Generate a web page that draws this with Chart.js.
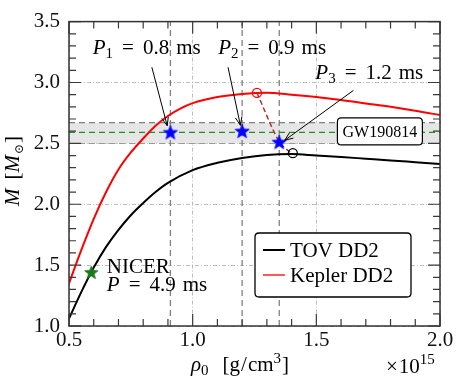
<!DOCTYPE html>
<html><head><meta charset="utf-8">
<script src="https://cdn.jsdelivr.net/npm/chart.js@4.4.1/dist/chart.umd.min.js"></script>
<style>html,body{margin:0;padding:0;background:#fff;}#wrap{width:463px;height:386px;}</style>
</head><body><div id="wrap"><canvas id="c" width="463" height="386"></canvas></div>
<script>
// ---------- data ----------
const tovRho   = [0.50,0.55,0.60,0.65,0.70,0.75,0.80,0.85,0.90,1.00,1.10,1.20,1.30,1.40,1.50,1.60,1.70,1.80,1.90,2.00];
const tovMass  = [1.06,1.28,1.48,1.65,1.79,1.91,2.01,2.10,2.175,2.28,2.34,2.38,2.405,2.412,2.40,2.388,2.374,2.36,2.345,2.33];
const keplerRho  = [0.50,0.55,0.60,0.65,0.70,0.75,0.80,0.85,0.90,0.95,1.00,1.10,1.20,1.30,1.40,1.50,1.60,1.70,1.80,1.90,2.00];
const keplerMass = [1.35,1.625,1.88,2.10,2.285,2.425,2.54,2.645,2.725,2.785,2.83,2.88,2.905,2.915,2.90,2.88,2.856,2.828,2.80,2.768,2.732];
const shedRho  = [1.26,1.35,1.395];
const shedMass = [2.915,2.51,2.425];
const keplerMaxRho = [1.26],  keplerMaxMass = [2.914];
const tovMaxRho    = [1.405], tovMaxMass    = [2.419];
const periodRho    = [0.91,1.20,1.35];
const periodMass   = [2.59,2.60,2.51];
const periodNames  = ['P1','P2','P3'];
const periodValues = ['0.8','0.9','1.2'];
const nicerRho = [0.59], nicerMass = [1.44];
const nicerPeriod = '4.9';
const gwName = 'GW190814';
const gwMass = [2.59], gwLow = [2.50], gwHigh = [2.67];
const xTicks = [0.5,1.0,1.5,2.0];
const yTicks = [1.0,1.5,2.0,2.5,3.0,3.5];
// -----------------------------------------------------

const FONT = "'Liberation Serif','DejaVu Serif',serif";
const xMin = xTicks[0], xMax = xTicks[xTicks.length-1];
const yMin = yTicks[0], yMax = yTicks[yTicks.length-1];
const xy = (xs, ys) => xs.map((x,i)=>({x:x, y:ys[i]}));

function makeStar(color, R){
  const r = R*0.42, s = Math.ceil(R*2+3);
  const c = document.createElement('canvas'); c.width=s; c.height=s;
  const g = c.getContext('2d'); g.translate(s/2, s/2+0.5);
  g.beginPath();
  for(let i=0;i<10;i++){const rad=i%2?r:R; const a=-Math.PI/2+i*Math.PI/5; g.lineTo(rad*Math.cos(a), rad*Math.sin(a));}
  g.closePath(); g.fillStyle=color; g.fill(); g.lineWidth=0.8; g.strokeStyle=color; g.stroke();
  return c;
}
const blueStar = makeStar('#0000ff', 7.5);
const greenStar = makeStar('#1a7a1a', 7);

const hLine = (v, extra) => Object.assign({data:[{x:xMin,y:v},{x:xMax,y:v}], showLine:true, pointRadius:0, borderWidth:1.3, borderDash:[6,4]}, extra);
const vLines = periodRho.map(v => ({label:'', data:[{x:v,y:yMin},{x:v,y:yMax}], showLine:true, pointRadius:0, borderColor:'#808080', borderWidth:1.3, borderDash:[6,4], order:5}));

const datasets = [
  {label:'TOV DD2', data:xy(tovRho,tovMass), showLine:true, pointRadius:0, borderColor:'#000000', borderWidth:2, cubicInterpolationMode:'monotone', order:2, legend:true},
  {label:'Kepler DD2', data:xy(keplerRho,keplerMass), showLine:true, pointRadius:0, borderColor:'#ff0000', borderWidth:2, cubicInterpolationMode:'monotone', order:2, legend:true},
  {label:'', data:xy(shedRho,shedMass), showLine:true, pointRadius:0, borderColor:'#a8352d', borderWidth:1.5, borderDash:[5,3], tension:0.3, order:3},
  {label:'', data:xy(keplerMaxRho,keplerMaxMass), pointStyle:'circle', pointRadius:4.5, pointBorderWidth:1.3, pointBorderColor:'#ff0000', pointBackgroundColor:'rgba(0,0,0,0)', order:1},
  {label:'', data:xy(tovMaxRho,tovMaxMass), pointStyle:'circle', pointRadius:4.5, pointBorderWidth:1.3, pointBorderColor:'#000000', pointBackgroundColor:'rgba(0,0,0,0)', order:1},
  {label:'', data:xy(periodRho,periodMass), pointStyle:blueStar, pointRadius:7, order:0},
  {label:'', data:xy(nicerRho,nicerMass), pointStyle:greenStar, pointRadius:7, order:0},
  ...vLines,
  hLine(gwHigh[0], {label:'', borderColor:'#808080', backgroundColor:'#e6e6e6', fill:'+1', order:6}),
  hLine(gwLow[0],  {label:'', borderColor:'#808080', fill:false, order:6}),
  hLine(gwMass[0], {label:'', borderColor:'#1f8f1f', fill:false, order:4}),
];

function drawRich(ctx, x, y, parts, measureOnly){
  let cx = x;
  for(const p of parts){
    cx += p.gap||0;
    ctx.font = (p.it?'italic ':'') + (p.size||21) + 'px ' + FONT;
    const w = ctx.measureText(p.t).width;
    if(!measureOnly) ctx.fillText(p.t, cx, y + (p.dy||0));
    cx += w;
  }
  return cx - x;
}
function periodParts(name, val){
  return [{t:'P', it:true},{t:name.slice(1), size:15, dy:4},{t:'=', gap:9},{t:val, gap:9},{t:'ms', gap:7}];
}
function arrow(ctx, x0,y0,x1,y1){
  ctx.beginPath(); ctx.moveTo(x0,y0); ctx.lineTo(x1,y1); ctx.stroke();
  const a = Math.atan2(y1-y0, x1-x0), L=9, s=0.38;
  ctx.beginPath();
  ctx.moveTo(x1 - L*Math.cos(a-s), y1 - L*Math.sin(a-s));
  ctx.lineTo(x1,y1);
  ctx.lineTo(x1 - L*Math.cos(a+s), y1 - L*Math.sin(a+s));
  ctx.stroke();
}
function rrect(ctx,x,y,w,h,r){
  ctx.beginPath(); ctx.moveTo(x+r,y); ctx.lineTo(x+w-r,y); ctx.quadraticCurveTo(x+w,y,x+w,y+r);
  ctx.lineTo(x+w,y+h-r); ctx.quadraticCurveTo(x+w,y+h,x+w-r,y+h); ctx.lineTo(x+r,y+h);
  ctx.quadraticCurveTo(x,y+h,x,y+h-r); ctx.lineTo(x,y+r); ctx.quadraticCurveTo(x,y,x+r,y); ctx.closePath();
}

// annotation layout (data coordinates of text anchors / arrow tails and tips)
const annot = {
  texts: [ {x:0.596, y:3.231}, {x:1.103, y:3.231}, {x:1.496, y:3.032} ],
  arrows: [ {from:[0.835,3.125], to:[0.897,2.645]}, {from:[1.143,3.125], to:[1.193,2.648]}, {from:[1.65,2.935], to:[1.372,2.525]} ],
  nicer: {x:0.653, y:1.432, dy:18},
  gwBox: {x:1.757, y:2.598, w:85, h:27}
};

const overlay = {
  id:'overlay',
  afterDatasetsDraw(chart){
    const ctx = chart.ctx, xs = chart.scales.x, ys = chart.scales.y, ca = chart.chartArea;
    const X = v => xs.getPixelForValue(v), Y = v => ys.getPixelForValue(v);
    ctx.save();
    // inside ticks
    ctx.strokeStyle = '#3a3a3a'; ctx.lineWidth = 1.2;
    for(let i=Math.round(xMin*10); i<=Math.round(xMax*10); i++){
      const v=i/10, p=X(v), L=(i%5===0)?12:7;
      ctx.beginPath(); ctx.moveTo(p, ca.bottom); ctx.lineTo(p, ca.bottom-L);
      ctx.moveTo(p, ca.top); ctx.lineTo(p, ca.top+L); ctx.stroke();
    }
    for(let i=Math.round(yMin*10); i<=Math.round(yMax*10); i++){
      const v=i/10, p=Y(v), L=(i%5===0)?12:7;
      ctx.beginPath(); ctx.moveTo(ca.left, p); ctx.lineTo(ca.left+L, p);
      ctx.moveTo(ca.right, p); ctx.lineTo(ca.right-L, p); ctx.stroke();
    }
    ctx.lineWidth = 1.5; ctx.strokeStyle='#333';
    ctx.strokeRect(ca.left, ca.top, ca.right-ca.left, ca.bottom-ca.top);

    ctx.fillStyle='#000'; ctx.textBaseline='alphabetic'; ctx.textAlign='left';
    // period labels and arrows
    annot.texts.forEach((t,i)=> drawRich(ctx, X(t.x), Y(t.y), periodParts(periodNames[i], periodValues[i])));
    ctx.strokeStyle='#000'; ctx.lineWidth=1;
    annot.arrows.forEach(a => arrow(ctx, X(a.from[0]), Y(a.from[1]), X(a.to[0]), Y(a.to[1])));
    // NICER
    const nx = X(annot.nicer.x), ny = Y(annot.nicer.y);
    drawRich(ctx, nx, ny, [{t:'NICER'}]);
    drawRich(ctx, nx, ny+annot.nicer.dy, [{t:'P', it:true},{t:'=', gap:9},{t:nicerPeriod, gap:9},{t:'ms', gap:7}]);
    // GW box
    const g = annot.gwBox, gx = X(g.x), gy = Y(g.y);
    rrect(ctx, gx-g.w/2, gy-g.h/2, g.w, g.h, 4); ctx.fillStyle='#fff'; ctx.fill();
    ctx.lineWidth=1.2; ctx.strokeStyle='#000'; ctx.stroke();
    ctx.fillStyle='#000'; ctx.font='16px '+FONT; ctx.textAlign='center'; ctx.textBaseline='middle';
    ctx.fillText(gwName, gx, gy+1);
    // legend
    const lg = {x: ca.right-185, y: ca.bottom-93, w:156, h:64};
    rrect(ctx, lg.x, lg.y, lg.w, lg.h, 4); ctx.fillStyle='#fff'; ctx.fill();
    ctx.lineWidth=1.3; ctx.strokeStyle='#000'; ctx.stroke();
    ctx.textAlign='left'; ctx.textBaseline='middle'; ctx.font='21px '+FONT;
    chart.data.datasets.filter(d=>d.legend).forEach((d,i)=>{
      const yy = lg.y + 17 + i*25;
      ctx.strokeStyle = d.borderColor; ctx.lineWidth = (i===0)?2:1.3;
      ctx.beginPath(); ctx.moveTo(lg.x+8, yy); ctx.lineTo(lg.x+30, yy); ctx.stroke();
      ctx.fillStyle='#000'; ctx.fillText(d.label, lg.x+35, yy+1);
    });
    // axis titles
    ctx.textBaseline='alphabetic'; ctx.fillStyle='#000';
    const xt = [{t:'ρ', it:true},{t:'0', size:15, dy:4},{t:'[g', gap:14},{t:'/', gap:1},{t:'cm', gap:1},{t:'3', size:15, dy:-8},{t:']', gap:1}];
    drawRich(ctx, 191, 371, xt);
    drawRich(ctx, 386, 373, [{t:'×', gap:0},{t:'10', gap:1},{t:'15', size:15, dy:-9}]);
    const yt = [{t:'M', it:true},{t:'[', gap:9},{t:'M', it:true},{t:'⊙', size:12, dy:4, gap:1},{t:']', gap:1}];
    ctx.translate(19, 171); ctx.rotate(-Math.PI/2);
    const w = drawRich(ctx, 0, 0, yt, true);
    drawRich(ctx, -w/2, 0, yt);
    ctx.restore();
  }
};

new Chart(document.getElementById('c'), {
  type:'scatter',
  data:{datasets},
  options:{
    responsive:false, animation:false, devicePixelRatio:1, events:[],
    layout:{padding:{left:0, right:23, top:19, bottom:0}},
    plugins:{legend:{display:false}, tooltip:{enabled:false}},
    scales:{
      x:{type:'linear', min:xMin, max:xMax,
         afterFit(s){ s.height = 60; },
         afterBuildTicks(s){ s.ticks = xTicks.map(v=>({value:v})); },
         ticks:{padding:2, color:'#111', font:{family:FONT, size:21}, callback:v=>v.toFixed(1), autoSkip:false, maxRotation:0},
         grid:{color:'#b5b5b5', lineWidth:0.9, drawTicks:false},
         border:{display:false, dash:[4,2,1,2]}},
      y:{type:'linear', min:yMin, max:yMax,
         afterFit(s){ s.width = 69; },
         afterBuildTicks(s){ s.ticks = yTicks.map(v=>({value:v})); },
         ticks:{padding:9, color:'#111', font:{family:FONT, size:21}, callback:v=>v.toFixed(1), autoSkip:false},
         grid:{color:'#b5b5b5', lineWidth:0.9, drawTicks:false},
         border:{display:false, dash:[4,2,1,2]}}
    }
  },
  plugins:[overlay]
});
</script></body></html>
